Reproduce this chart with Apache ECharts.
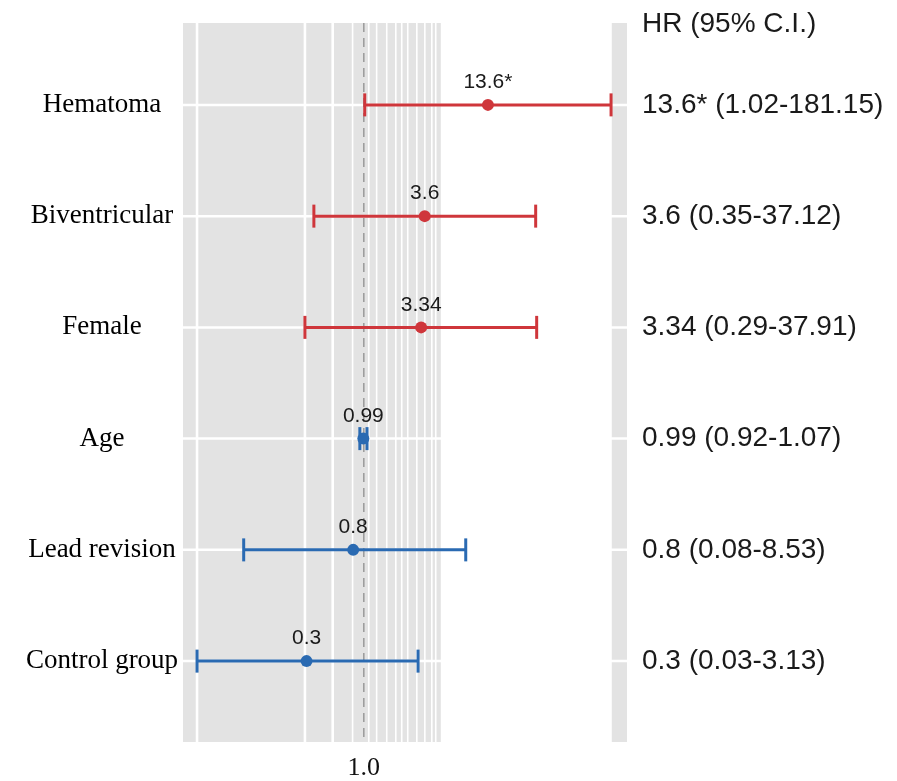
<!DOCTYPE html>
<html>
<head>
<meta charset="utf-8">
<script src="https://cdn.jsdelivr.net/npm/echarts@6/dist/echarts.min.js"></script>
<style>html,body{margin:0;padding:0;background:#fff}#c{width:897px;height:781px}</style>
</head>
<body>
<div id="c"></div>
<script>
// ---- data ----
const categories = ['Hematoma', 'Biventricular', 'Female', 'Age', 'Lead revision', 'Control group'];
const hr = [13.6, 3.6, 3.34, 0.99, 0.8, 0.3];
const ciLow = [1.02, 0.35, 0.29, 0.92, 0.08, 0.03];
const ciHigh = [181.15, 37.12, 37.91, 1.07, 8.53, 3.13];
const hrLabels = ['13.6*', '3.6', '3.34', '0.99', '0.8', '0.3'];
const hrText = ['13.6* (1.02-181.15)', '3.6 (0.35-37.12)', '3.34 (0.29-37.91)', '0.99 (0.92-1.07)', '0.8 (0.08-8.53)', '0.3 (0.03-3.13)'];
const gridMajor = [0.03, 0.29, 0.52];
const gridMinor = [0.79, 1.11, 1.31, 1.62, 1.96, 2.22, 2.52, 3.05, 3.61, 4.18, 4.54];
const refValue = 1;

// ---- layout constants ----
const XMIN = 0.02233, XMAX = 253.3;
const YMIN = 0.264, YMAX = 6.727;
const panelBands = [[XMIN, 5.05], [184, XMAX]];
const RED = '#cf363b', BLUE = '#2a6ab2', GRAY = '#e3e3e3';

const rows = categories.map((c, i) => i + 1);

const chart = echarts.init(document.getElementById('c'), null, {renderer: 'canvas'});

function vline(params, api, w, color, dash) {
  const cs = params.coordSys;
  const x = api.coord([api.value(0), 1])[0];
  return {type: 'line', shape: {x1: x, y1: cs.y, x2: x, y2: cs.y + cs.height},
    style: {stroke: color, lineWidth: w, lineDash: dash || null}};
}

chart.setOption({
  animation: false,
  title: {text: 'HR (95% C.I.)', left: 637, top: 5,
    textStyle: {fontFamily: 'Liberation Sans', fontSize: 28, fontWeight: 'normal', color: '#1a1a1a'}},
  grid: {left: 183, right: 270, top: 23, bottom: 38, containLabel: false},
  xAxis: {
    type: 'log', logBase: 10, min: XMIN, max: XMAX,
    axisLine: {show: false}, axisTick: {show: false}, splitLine: {show: false},
    axisLabel: {
      margin: 13, fontFamily: 'Liberation Serif', fontSize: 26, color: '#111',
      formatter: v => Math.abs(v - refValue) < 1e-6 ? '1.0' : ''
    }
  },
  yAxis: [{
    type: 'value', inverse: true, min: YMIN, max: YMAX,
    axisLine: {show: false}, axisTick: {show: false}, splitLine: {show: false},
    axisLabel: {
      customValues: rows, margin: 81, align: 'center',
      fontFamily: 'Liberation Serif', fontSize: 27, color: '#000',
      formatter: v => categories[Math.round(v) - 1] || ''
    }
  }, {
    type: 'value', inverse: true, min: YMIN, max: YMAX, position: 'right',
    axisLine: {show: false}, axisTick: {show: false}, splitLine: {show: false},
    axisLabel: {
      customValues: rows, margin: 15, align: 'left',
      fontFamily: 'Liberation Sans', fontSize: 28, color: '#1a1a1a',
      formatter: v => hrText[Math.round(v) - 1] || ''
    }
  }],
  series: [
    { // gray panel bands
      type: 'custom', z: 1, silent: true,
      data: panelBands.map(b => [b[0], b[1]]),
      encode: {x: [0, 1]},
      renderItem: (params, api) => {
        const cs = params.coordSys;
        const a = api.coord([api.value(0), 1])[0];
        const b = api.coord([api.value(1), 1])[0];
        return {type: 'rect', shape: {x: a, y: cs.y, width: b - a, height: cs.height}, style: {fill: GRAY}};
      }
    },
    { // vertical grid lines
      type: 'custom', z: 2, silent: true,
      data: gridMajor.map(v => [v, 2.6]).concat(gridMinor.map(v => [v, 1.6])),
      encode: {x: 0},
      renderItem: (params, api) => vline(params, api, api.value(1), '#fff')
    },
    { // horizontal row lines
      type: 'custom', z: 3, silent: true,
      data: rows.map(r => [r]),
      encode: {y: 0},
      renderItem: (params, api) => {
        const cs = params.coordSys;
        const y = api.coord([1, api.value(0)])[1];
        return {type: 'line', shape: {x1: cs.x, y1: y, x2: cs.x + cs.width, y2: y}, style: {stroke: '#fff', lineWidth: 2.5}};
      }
    },
    { // reference dashed line
      type: 'custom', z: 4, silent: true,
      data: [[refValue]],
      encode: {x: 0},
      renderItem: (params, api) => vline(params, api, 1.5, '#9a9a9a', [9, 6])
    },
    { // error bars
      type: 'custom', z: 5, silent: true,
      data: rows.map((r, i) => [r, ciLow[i], ciHigh[i], hr[i] > 1 ? 1 : 0]),
      encode: {y: 0, x: [1, 2]},
      renderItem: (params, api) => {
        const y = api.value(0);
        const lo = api.coord([api.value(1), y]);
        const hi = api.coord([api.value(2), y]);
        const color = api.value(3) ? RED : BLUE;
        const h = 11.5;
        return {type: 'group', children: [
          {type: 'line', shape: {x1: lo[0], y1: lo[1], x2: hi[0], y2: hi[1]}, style: {stroke: color, lineWidth: 3}},
          {type: 'line', shape: {x1: lo[0], y1: lo[1] - h, x2: lo[0], y2: lo[1] + h}, style: {stroke: color, lineWidth: 3}},
          {type: 'line', shape: {x1: hi[0], y1: hi[1] - h, x2: hi[0], y2: hi[1] + h}, style: {stroke: color, lineWidth: 3}}
        ]};
      }
    },
    { // point estimates
      type: 'scatter', z: 6, symbol: 'circle', symbolSize: 12,
      data: rows.map((r, i) => ({value: [hr[i], r], itemStyle: {color: hr[i] > 1 ? RED : BLUE, opacity: 1}})),
      label: {
        show: true, position: 'top', distance: 6,
        fontFamily: 'Liberation Sans', fontSize: 21, color: '#1a1a1a',
        formatter: p => hrLabels[p.dataIndex]
      }
    }
  ]
});
</script>
</body>
</html>
